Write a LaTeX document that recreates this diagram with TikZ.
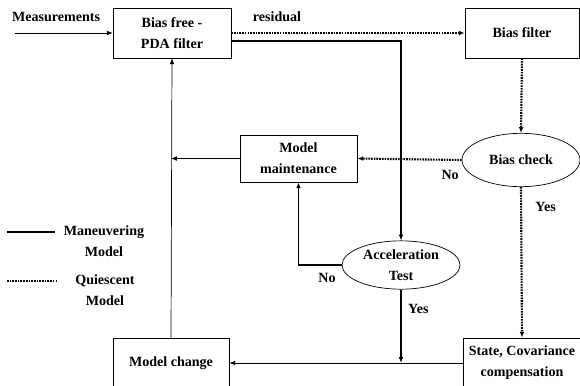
\documentclass[tikz,border=0pt]{standalone}
\usepackage{fontspec}
\setmainfont{Liberation Serif}
\usetikzlibrary{arrows.meta, positioning, shapes.geometric, calc}

\begin{document}
\begin{tikzpicture}[
    x=0.03cm, y=-0.03cm,
    every node/.style={font=\fontsize{12}{18}\selectfont\bfseries},
    block/.style={rectangle, draw, line width=0.6pt, inner sep=0pt, minimum width=3.5cm, minimum height=1.5cm, align=center},
    test/.style={ellipse, draw, line width=0.6pt, inner sep=0pt, minimum width=3.54cm, minimum height=1.45cm, align=center},
    plain/.style={-{Latex[length=5pt,width=4pt]}, line width=0.6pt},
    maneuver/.style={-{Latex[length=5pt,width=4pt]}, line width=1.7pt},
    quiescent/.style={-{Latex[length=5pt,width=4pt]}, line width=1.8pt, dash pattern=on 1.4pt off 0.9pt}
]
\useasboundingbox (0,0) rectangle (580,385);
\node[block, minimum width=3.54cm] (pda) at (172,33) {Bias free -\\PDA filter};
\node[block, minimum width=3.42cm] (biasf) at (522,33) {Bias filter};
\node[block, minimum width=3.51cm, minimum height=1.41cm] (maint) at (298.5,158.5) {Model\\maintenance};
\node[test, minimum height=1.6cm] (check) at (521,160) {Bias check};
\node[test] (accel) at (401,265) {Acceleration\\Test};
\node[block, minimum width=3.48cm] (change) at (171,363) {Model change};
\node[block] (state) at (522,363) {State, Covariance\\compensation};
\node (measlabel) at (56,17) {Measurements};
\coordinate (meas) at (15,33);
\node (residual) at (277,17) {residual};
\coordinate (join) at (accel.south |- change.east);
\coordinate (feed) at (maint.west -| change.north);
% legend
\coordinate (solidA) at (7,232);
\coordinate (solidB) at (55,232);
\coordinate (dotA) at (7,281);
\coordinate (dotB) at (57,281);
\node[align=center] (maneuvtext) at (104,241) {Maneuvering\\Model};
\node[align=center] (quiesctext) at (105,290.5) {Quiescent\\Model};
\draw[line width=1.7pt] (solidA) -- (solidB);
\draw[line width=1.8pt, dash pattern=on 1.4pt off 0.9pt] (dotA) -- (dotB);
% connectors
\draw[plain] (meas) -- (pda.west);
\draw[quiescent] (pda.east) -- (biasf.west);
\draw[maneuver] ([yshift=-0.24cm]pda.east) -| (accel.north);
\draw[quiescent] (biasf.south) -- (check.north);
\draw[quiescent] (check.west) -- node[pos=0.11, below=0.16cm] {No} (maint.east);
\draw[quiescent] (check.south) -- node[pos=0.13, right=0.28cm] {Yes} (state.north);
\draw[maneuver] (accel.west) -| node[pos=0.17, below=0.1cm] {No} (maint.south);
\draw[maneuver] (accel.south) -- node[pos=0.26, right=0.07cm] {Yes} (join);
\draw[plain] (state.west) -- (change.east);
\draw[plain] (maint.west) -- (feed);
\draw[plain] (change.north) -- (pda.south);
\end{tikzpicture}
\end{document}
